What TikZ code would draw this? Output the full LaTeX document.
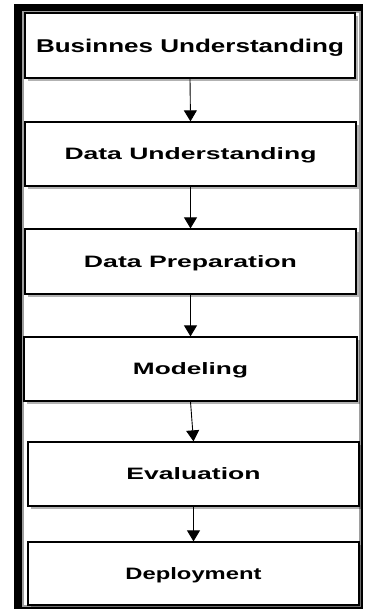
\documentclass[tikz,border=0pt]{standalone}
\usepackage{fontspec}
\setmainfont{Liberation Sans}
\usetikzlibrary{arrows.meta,shadows}
\newcommand\stagetext[2]{\resizebox{#1}{\height}{#2}}
\begin{document}
\begin{tikzpicture}[x=1pt,y=-1pt,
  stagebox/.style={draw=black, line width=1.3pt, fill=white, inner sep=0pt,
    text depth=0pt, font=\bfseries\fontsize{16.5}{18}\selectfont,
    drop shadow={shadow xshift=2.5pt, shadow yshift=-3pt, opacity=0.3, fill=black}},
  conn/.style={-{Triangle[width=13pt,length=11pt]}, line width=0.9pt, black}]
\useasboundingbox (0,0) rectangle (365,611);
% frame
\fill[black] (14,4) rectangle (363,609);
\fill[black!38] (22,11) rectangle (361,607);
\fill[white] (24,13) rectangle (359,605);
% stages
\node[stagebox, minimum width=330pt, minimum height=65pt, font=\bfseries\fontsize{18.5}{20}\selectfont] (bu) at (190,45.5) {\stagetext{308pt}{Businnes Understanding}};
\node[stagebox, minimum width=331pt, minimum height=64pt] (du) at (190.5,154) {\stagetext{252pt}{Data Understanding}};
\node[stagebox, minimum width=331pt, minimum height=65pt] (dp) at (190.5,261.5) {\stagetext{213pt}{Data Preparation}};
\node[stagebox, minimum width=333pt, minimum height=64pt] (mo) at (190.5,369) {\stagetext{115pt}{Modeling}};
\node[stagebox, minimum width=331pt, minimum height=64pt] (ev) at (193.5,474) {\stagetext{134pt}{Evaluation}};
\node[stagebox, minimum width=331pt, minimum height=63pt] (de) at (193.5,573.5) {\stagetext{136pt}{Deployment}};
% connectors
\draw[conn] (bu.south) -- (du.north);
\draw[conn] (du.south) -- (dp.north);
\draw[conn] (dp.south) -- (mo.north);
\draw[conn] (mo.south) -- (ev.north);
\draw[conn] (ev.south) -- (de.north);
\end{tikzpicture}
\end{document}
